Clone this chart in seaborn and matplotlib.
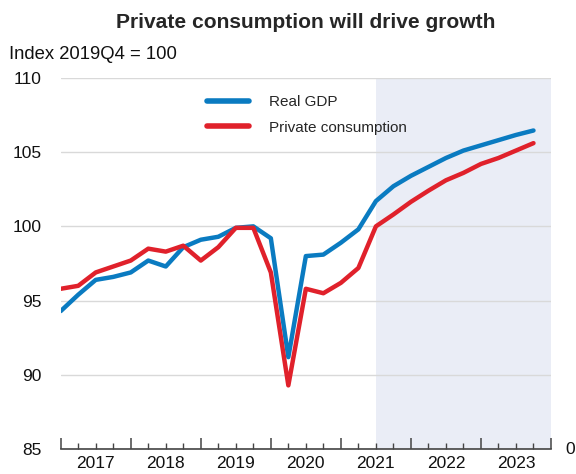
import matplotlib
matplotlib.use("Agg")

import matplotlib.pyplot as plt
import matplotlib.transforms as mtransforms
import seaborn as sns
import pandas as pd

# quarterly data, 2017Q1 .. 2023Q4
quarters = [f"{y}Q{q}" for y in range(2017, 2024) for q in range(1, 5)]
real_gdp = [94.3, 95.4, 96.4, 96.6, 96.9, 97.7, 97.3, 98.6,
            99.1, 99.3, 99.9, 100.0, 99.2, 91.2, 98.0, 98.1,
            98.9, 99.8, 101.7, 102.7, 103.4, 104.0, 104.6, 105.1,
            105.45, 105.8, 106.15, 106.45]
private_cons = [95.8, 96.0, 96.9, 97.3, 97.7, 98.5, 98.3, 98.7,
                97.7, 98.6, 99.9, 99.9, 96.9, 89.3, 95.8, 95.5,
                96.2, 97.2, 100.0, 100.8, 101.65, 102.4, 103.1, 103.6,
                104.2, 104.6, 105.1, 105.6]
years = ["2017", "2018", "2019", "2020", "2021", "2022", "2023"]
series_names = ["Real GDP", "Private consumption"]
forecast_start = "2021Q3"

df = pd.DataFrame({
    "t": list(range(len(quarters))) * 2,
    "value": real_gdp + private_cons,
    "series": [series_names[0]] * len(quarters) + [series_names[1]] * len(quarters),
})

sns.set_theme(style="white")
plt.rcParams["font.family"] = ["Liberation Sans", "DejaVu Sans"]

fig = plt.figure(figsize=(5.76, 4.74), dpi=100)
ax = fig.add_axes([0.1054, 0.0521, 0.8512, 0.7839])

n = len(quarters)
ax.axvspan(quarters.index(forecast_start), n, color="#eaedf6", lw=0, zorder=0)

sns.lineplot(data=df, x="t", y="value", hue="series",
             palette=["#0a7bc1", "#e0212b"], linewidth=3.2, ax=ax,
             legend=True, zorder=3)

ax.set_xlim(0, n)
ax.set_ylim(85, 110)
ax.set_yticks([85, 90, 95, 100, 105, 110])
ax.grid(axis="y", color="#d9d9d9", linewidth=1.0)
ax.set_axisbelow(True)
ax.set_xlabel("")
ax.set_ylabel("")

for s in ["top", "right", "left"]:
    ax.spines[s].set_visible(False)
ax.spines["bottom"].set_color("#444444")
ax.spines["bottom"].set_linewidth(1.2)
ax.spines["bottom"].set_zorder(4)

# year boundaries: tall ticks, quarters: short ticks, year label mid-year
ax.set_xticks(range(0, n + 1, 4), labels=[""] * (n // 4 + 1))
minor = [i for i in range(n) if i % 4 != 0]
minor_labels = [years[i // 4] if i % 4 == 2 else "" for i in minor]
ax.set_xticks(minor, labels=minor_labels, minor=True)
ax.tick_params(axis="x", which="major", direction="in", length=8, width=1.1,
               color="#444444", bottom=True)
ax.tick_params(axis="x", which="minor", direction="in", length=4, width=1.0,
               color="#444444", bottom=True, labelsize=12.5, pad=5,
               labelcolor="#111111")
ax.tick_params(axis="y", length=0, labelsize=12.5, pad=14, labelcolor="#111111")

leg = ax.legend(loc="upper left", bbox_to_anchor=(0.27, 0.99), frameon=False,
                fontsize=11, handlelength=2.75, handletextpad=1.3,
                labelspacing=0.75)
for line in leg.get_lines():
    line.set_linewidth(4)

fig.text(0.531, 0.952, "Private consumption will drive growth",
         ha="center", va="center", fontsize=15.1, fontweight="bold")
fig.text(0.016, 0.885, "Index 2019Q4 = 100", ha="left", va="center",
         fontsize=13.3, color="#111111")
trans = mtransforms.blended_transform_factory(ax.transAxes, ax.transData)
ax.text(1.03, 85, "0", transform=trans, ha="left", va="center",
        fontsize=12.5, color="#111111")

plt.savefig("out.png", dpi=100)
plt.close()
